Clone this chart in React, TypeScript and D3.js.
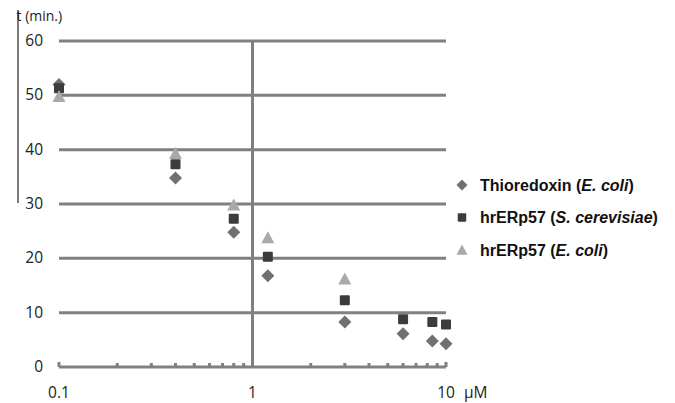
import React from "react"
import * as d3 from "d3"

const concentrations = [0.1, 0.4, 0.8, 1.2, 3, 6, 8.5, 10]
const thioredoxin = [52, 34.8, 24.8, 16.8, 8.3, 6.1, 4.8, 4.3]
const hrERp57Sc = [51.3, 37.3, 27.3, 20.3, 12.3, 8.8, 8.3, 7.8]
const hrERp57Ec = [49.8, 39.3, 29.8, 23.8, 16.2, null, null, null]
const yTicks = [0, 10, 20, 30, 40, 50, 60]
const xLabels = [0.1, 1, 10]

const legend = [
  { name: "Thioredoxin", host: "E. coli", shape: "diamond", color: "#707070" },
  { name: "hrERp57", host: "S. cerevisiae", shape: "square", color: "#3c3c3c" },
  { name: "hrERp57", host: "E. coli", shape: "triangle", color: "#a9a9a9" }
]

const gridColor = "#808080"
const labelFont = "'Open Sans', 'DejaVu Sans', sans-serif"

function marker(shape: string, cx: number, cy: number, color: string, key: string, s = 1) {
  if (shape === "diamond") {
    const r = 6.5 * s
    return <path key={key} d={`M${cx},${cy - r}L${cx + r},${cy}L${cx},${cy + r}L${cx - r},${cy}Z`} fill={color} />
  }
  if (shape === "square") {
    const h = 5 * s
    return <rect key={key} x={cx - h} y={cy - h} width={2 * h} height={2 * h} rx={1} fill={color} />
  }
  const r = 6.5 * s
  return <path key={key} d={`M${cx},${cy - r}L${cx + r},${cy + r * 0.85}L${cx - r},${cy + r * 0.85}Z`} fill={color} />
}

export default function App() {
  const x = d3.scaleLog().domain([0.1, 10]).range([59, 446])
  const y = d3.scaleLinear().domain([0, 60]).range([367, 41])

  const minor: number[] = []
  for (const dec of [0.1, 1]) {
    for (let k = 2; k <= 9; k++) minor.push(dec * k)
  }

  const series = [thioredoxin, hrERp57Sc, hrERp57Ec]

  return (
    <div style={{ position: "absolute", left: 0, top: 0 }}>
      <svg width={675} height={403} style={{ display: "block", background: "#fff" }}>
        {/* thin left rule */}
        <line x1={18} x2={18} y1={10} y2={203} stroke="#222" strokeWidth={1.2} />
        <text x={16.5} y={21} fontFamily={labelFont} fontSize={14} fill="#222">t (min.)</text>

        {/* gridlines */}
        {yTicks.map(t => (
          <g key={t}>
            <line x1={x(0.1)} x2={x(10)} y1={y(t)} y2={y(t)} stroke={gridColor} strokeWidth={3} />
            <text x={43} y={y(t) + 5} textAnchor="end" fontFamily={labelFont} fontSize={15.5} fill="#222">{t}</text>
          </g>
        ))}

        {/* vertical line at 1 */}
        <line x1={x(1)} x2={x(1)} y1={y(60)} y2={y(0)} stroke={gridColor} strokeWidth={3} />

        {/* x axis ticks */}
        {minor.map(m => (
          <rect key={m} x={x(m) - 1.5} y={y(0) - 4} width={3} height={3} fill={gridColor} />
        ))}
        <rect x={x(0.1) - 1.5} y={y(0) - 5} width={3} height={5} fill={gridColor} />
        <rect x={x(10) - 1.5} y={y(0) - 5} width={3} height={5} fill={gridColor} />

        {xLabels.map(v => (
          <text key={v} x={x(v)} y={398} textAnchor="middle" fontFamily={labelFont} fontSize={15.5} fill="#222">{v}</text>
        ))}
        <text x={464} y={398} fontFamily={labelFont} fontSize={15.5} fill="#222">μM</text>

        {/* data */}
        {series.map((vals, si) =>
          vals.map((v, i) =>
            v == null ? null : marker(legend[si].shape, x(concentrations[i]), y(v), legend[si].color, `${si}-${i}`)
          )
        )}

        {/* legend */}
        {legend.map((l, i) => {
          const cy = 185 + i * 32.5
          return (
            <g key={i}>
              {marker(l.shape, 462, cy, l.color, `lg${i}`, 0.85)}
              <text x={480} y={cy + 5.5} fontFamily="'Liberation Sans', Arial, sans-serif" fontWeight="bold" fontSize={16} fill="#111">
                {l.name} (<tspan fontStyle="italic">{l.host}</tspan>)
              </text>
            </g>
          )
        })}
      </svg>
    </div>
  )
}
